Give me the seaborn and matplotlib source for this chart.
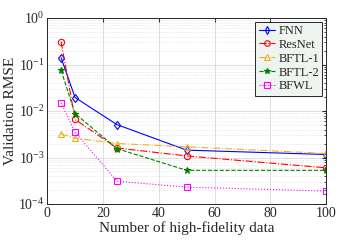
import numpy as np
import pandas as pd
import seaborn as sns
import matplotlib.pyplot as plt

# ----------------- Data -----------------
n_hf = [5, 10, 25, 50, 100]
fnn = [0.14, 0.0195, 0.0051, 0.00144, 0.00116]
resnet = [0.31, 0.0066, 0.0016, 0.00108, 0.0006]
bftl1 = [0.0032, 0.0026, 0.0020, 0.0017, 0.00122]
bftl2 = [0.075, 0.0088, 0.00155, 0.00053, 0.00053]
bfwl = [0.015, 0.0035, 0.00031, 0.00023, 0.00019]

series = {"FNN": fnn, "ResNet": resnet, "BFTL-1": bftl1, "BFTL-2": bftl2, "BFWL": bfwl}
styles = {
    "FNN": dict(color="#0000FF", ls="-", marker="d", mfc="none"),
    "ResNet": dict(color="#FF0000", ls="-.", marker="o", mfc="none"),
    "BFTL-1": dict(color="#EDB120", ls="-.", marker="^", mfc="none"),
    "BFTL-2": dict(color="#008000", ls="--", marker="*", mfc="#008000"),
    "BFWL": dict(color="#FF00FF", ls=":", marker="s", mfc="none"),
}

# ----------------- Plot -----------------
sns.set_style("white")
plt.rcParams['font.family'] = ['Liberation Serif', 'DejaVu Serif']
plt.rcParams['mathtext.fontset'] = 'custom'
plt.rcParams['mathtext.rm'] = 'Liberation Serif'
plt.rcParams['mathtext.it'] = 'Liberation Serif:italic'
plt.rcParams['mathtext.bf'] = 'Liberation Serif:bold'

fig = plt.figure(figsize=(3.6, 2.4), dpi=100)
ax = fig.add_axes([0.131, 0.15, 0.775, 0.775])

for name, vals in series.items():
    st = styles[name]
    df = pd.DataFrame({"n": n_hf, "rmse": vals})
    sns.lineplot(data=df, x="n", y="rmse", ax=ax, color=st["color"], linestyle=st["ls"],
                 marker=st["marker"], markerfacecolor=st["mfc"], markeredgecolor=st["color"],
                 markersize=4.5, markeredgewidth=0.8, linewidth=0.8, label=name)

ax.set_yscale("log")
ax.set_xlim(0, 100)
ax.set_ylim(1e-4, 1e0)
ax.set_xticks([0, 20, 40, 60, 80, 100])
ax.set_yticks([1e-4, 1e-3, 1e-2, 1e-1, 1e0])
ax.grid(True, which="major", color="#d0d0d0", linewidth=0.5, linestyle="-")
ax.grid(True, which="minor", color="#d8d8d8", linewidth=0.5, linestyle=":")
ax.tick_params(which="both", direction="in", top=True, right=True, labelsize=10,
               colors="#262626", pad=2)
ax.tick_params(which="major", length=3)
ax.tick_params(which="minor", length=1.5)
for s in ax.spines.values():
    s.set_color("#262626")
    s.set_linewidth(0.7)

ax.set_xlabel("Number of high-fidelity data", fontsize=11, labelpad=1)
ax.set_ylabel("Validation RMSE", fontsize=11, labelpad=1)

leg = ax.legend(loc="upper right", fontsize=9, frameon=True, fancybox=False,
                handlelength=1.3, handletextpad=0.3, borderpad=0.25, labelspacing=0.15,
                borderaxespad=0.3, markerscale=0.9)
leg.get_frame().set_facecolor("#F0F4F0")
leg.get_frame().set_edgecolor("#262626")
leg.get_frame().set_alpha(1)
leg.get_frame().set_linewidth(0.7)

fig.savefig("out.png", dpi=100)
